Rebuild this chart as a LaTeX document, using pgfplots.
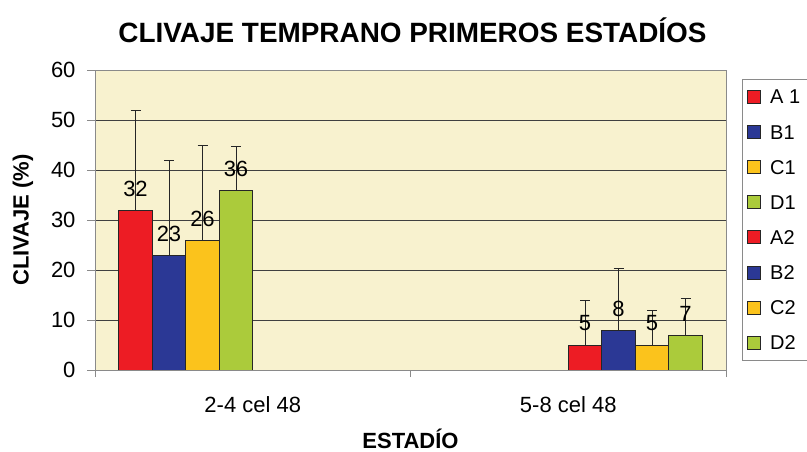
\documentclass[border=0pt]{standalone}
\usepackage{fontspec}
\setmainfont{Liberation Sans}
\usepackage{pgfplots}
\pgfplotsset{compat=1.18}
\definecolor{cA}{HTML}{ED1C24}
\definecolor{cB}{HTML}{2B3895}
\definecolor{cC}{HTML}{FBC31C}
\definecolor{cD}{HTML}{ABCB3B}
\definecolor{bgc}{HTML}{F8F2CF}
\definecolor{gridc}{HTML}{404040}
\definecolor{axc}{HTML}{8A8A8A}
\begin{document}
\begin{tikzpicture}
\path[use as bounding box] (0,0) rectangle (807bp,452bp);
\begin{axis}[
  at={(95bp,82bp)}, anchor=south west,
  scale only axis, width=631bp, height=300bp,
  /pgf/number format/assume math mode=true,
  font=\fontsize{22bp}{26bp}\selectfont,
  xmin=-0.5, xmax=1.5, ymin=0, ymax=60,
  enlargelimits=false,
  ytick={0,10,...,60},
  xtick={0,1}, xticklabels={2-4 cel 48, 5-8 cel 48},
  minor xtick={-0.5,0.5,1.5},
  major x tick style={draw=none},
  minor x tick style={draw=axc, line width=0.8bp},
  minor tick length=7bp,
  major tick length=8bp,
  tick align=outside,
  ytick pos=left, xtick pos=bottom,
  y tick style={draw=axc, line width=0.8bp},
  axis line style={draw=axc, line width=0.8bp},
  axis background/.style={fill=bgc},
  ymajorgrids, grid style={draw=gridc, line width=0.7bp},
  yticklabel style={xshift=-8bp},
  xticklabel style={yshift=-15bp},
  title={\bfseries\fontsize{27.9bp}{32bp}\selectfont CLIVAJE TEMPRANO PRIMEROS ESTADÍOS},
  every axis title/.style={at={(axis description cs:0.5,1)}, anchor=center, yshift=40bp, xshift=2bp},
  xlabel={\bfseries ESTADÍO},
  every axis x label/.style={at={(axis description cs:0.5,0)}, anchor=center, yshift=-69bp},
  ylabel={\bfseries CLIVAJE (\%)},
  every axis y label/.style={at={(axis description cs:-0.1141,0.5)}, anchor=center, rotate=90},
  ybar=0pt, bar width=33.5bp,
  every axis plot/.append style={draw=black!85, line width=1bp},
  nodes near coords,
  every node near coord/.append style={anchor=center, yshift=21.5bp, font=\fontsize{22bp}{26bp}\selectfont, black},
  error bars/y dir=plus, error bars/y explicit,
  error bars/error bar style={draw=black!85, line width=0.8bp},
  error bars/error mark options={rotate=90, draw=black!85, line width=0.8bp, mark size=5bp},
  legend style={at={(axis description cs:1.0254,0.97)}, anchor=north west,
    draw=axc, line width=0.8bp, fill=white, inner xsep=5bp, inner ysep=0bp, row sep=0bp, column sep=6bp,
    font=\fontsize{20bp}{24bp}\selectfont,
    nodes={text height=14bp, text depth=0bp, inner ysep=10.55bp, inner xsep=3bp}},
  legend cell align=left,
  legend image code/.code={\draw[#1, draw=black!85, line width=0.8bp] (0bp,-6.5bp) rectangle (13bp,6.5bp);},
]
\addplot[fill=cA] coordinates {(0,32) +- (0,20)};
\addplot[fill=cB] coordinates {(0,23) +- (0,19)};
\addplot[fill=cC] coordinates {(0,26) +- (0,19)};
\addplot[fill=cD] coordinates {(0,36) +- (0,8.7)};
\addplot[fill=cA] coordinates {(1,5) +- (0,9)};
\addplot[fill=cB] coordinates {(1,8) +- (0,12.4)};
\addplot[fill=cC] coordinates {(1,5) +- (0,7)};
\addplot[fill=cD] coordinates {(1,7) +- (0,7.3)};
\legend{A 1, B1, C1, D1, A2, B2, C2, D2}
\end{axis}
\end{tikzpicture}
\end{document}
